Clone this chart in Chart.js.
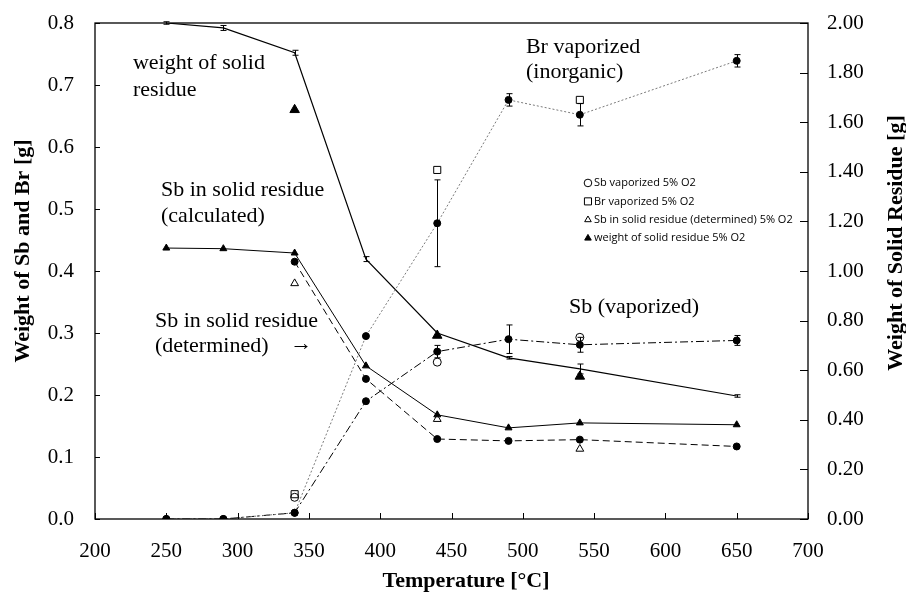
<!DOCTYPE html>
<html>
<head>
<meta charset="utf-8">
<script src="https://cdn.jsdelivr.net/npm/chart.js@4.4.0/dist/chart.umd.min.js"></script>
<style>
  html, body { margin: 0; padding: 0; background: #fff; }
</style>
</head>
<body>
<canvas id="chart" width="906" height="594"></canvas>
<script>
// temperatures [°C]
var temps = [250, 290, 340, 390, 440, 490, 540, 650];
var detTemps = [340, 390, 440, 490, 540, 650];
var o2Temps = [340, 440, 540];

// left axis: weight of Sb and Br [g]
var sbVaporized = [0, 0, 0.01, 0.19, 0.27, 0.29, 0.281, 0.288];
var sbVaporizedErr = [0, 0, 0, 0, 0.01, 0.023, 0.012, 0.008];
var brVaporized = [0, 0, 0.01, 0.295, 0.477, 0.676, 0.652, 0.739];
var brVaporizedErr = [0, 0, 0, 0, 0.07, 0.01, 0.018, 0.01];
var sbResidueCalc = [0.437, 0.436, 0.429, 0.247, 0.168, 0.147, 0.155, 0.152];
var sbResidueDet = [0.415, 0.226, 0.129, 0.126, 0.128, 0.117];

// right axis: weight of solid residue [g]
var solidResidue = [2.00, 1.98, 1.88, 1.048, 0.75, 0.65, 0.605, 0.496];
var solidResidueErr = [0.005, 0.01, 0.01, 0.01, 0, 0.005, 0.02, 0.005];

// 5% O2 runs
var sbVaporizedO2 = [0.035, 0.253, 0.293];
var brVaporizedO2 = [0.04, 0.563, 0.676];
var sbResidueDetO2 = [0.38, 0.161, 0.113];
var solidResidueO2 = [1.65, 0.74, 0.575];

var legendLabels = [
    ["circle", false, "Sb vaporized 5% O2"],
    ["rect", false, "Br vaporized 5% O2"],
    ["triangle", false, "Sb in solid residue (determined) 5% O2"],
    ["triangle", true, "weight of solid residue 5% O2"]
];

// annotation texts: [temperature, left-axis value, text]
var notes = [
    [226.6, 0.735, "weight of solid"],
    [226.6, 0.692, "residue"],
    [502.2, 0.761, "Br vaporized"],
    [502.2, 0.721, "(inorganic)"],
    [246.3, 0.531, "Sb in solid residue"],
    [246.3, 0.489, "(calculated)"],
    [242, 0.319, "Sb in solid residue"],
    [242, 0.279, "(determined)"],
    [337, 0.282, "\u2192"],
    [532.4, 0.342, "Sb (vaporized)"]
];

function pts(xs, ys) {
    return xs.map(function (x, i) { return { x: x, y: ys[i] }; });
}

Chart.defaults.font.family = "'Liberation Serif', 'DejaVu Serif', serif";
Chart.defaults.color = "#000";

var errorBars = {
    id: "extras",
    afterDatasetsDraw: function (chart) {
        var ctx = chart.ctx;
        var xs = chart.scales.x, yl = chart.scales.y, yr = chart.scales.y2;
        var area = chart.chartArea;

        function bars(xv, yv, ev, scale) {
            ctx.save();
            ctx.strokeStyle = "#000";
            ctx.lineWidth = 1;
            for (var i = 0; i < xv.length; i++) {
                if (!ev[i]) continue;
                var px = Math.round(xs.getPixelForValue(xv[i])) + 0.5;
                var top = scale.getPixelForValue(yv[i] + ev[i]);
                var bot = scale.getPixelForValue(yv[i] - ev[i]);
                ctx.beginPath();
                ctx.moveTo(px, top); ctx.lineTo(px, bot);
                ctx.moveTo(px - 3, top); ctx.lineTo(px + 3, top);
                ctx.moveTo(px - 3, bot); ctx.lineTo(px + 3, bot);
                ctx.stroke();
            }
            ctx.restore();
        }
        bars(temps, sbVaporized, sbVaporizedErr, yl);
        bars(temps, brVaporized, brVaporizedErr, yl);
        bars(temps, solidResidue, solidResidueErr, yr);

        // frame and inner ticks
        ctx.save();
        ctx.strokeStyle = "#000";
        ctx.lineWidth = 1.3;
        ctx.strokeRect(area.left, area.top, area.right - area.left, area.bottom - area.top);
        ctx.lineWidth = 1;
        ctx.beginPath();
        xs.ticks.forEach(function (t) {
            var p = Math.round(xs.getPixelForValue(t.value)) + 0.5;
            ctx.moveTo(p, area.bottom); ctx.lineTo(p, area.bottom - 6);
        });
        yl.ticks.forEach(function (t) {
            var p = Math.round(yl.getPixelForValue(t.value)) + 0.5;
            ctx.moveTo(area.left, p); ctx.lineTo(area.left + 5, p);
        });
        yr.ticks.forEach(function (t) {
            var p = Math.round(yr.getPixelForValue(t.value)) + 0.5;
            ctx.moveTo(area.right, p); ctx.lineTo(area.right - 8, p);
        });
        ctx.stroke();

        // annotations
        ctx.fillStyle = "#000";
        ctx.font = "22px 'Liberation Serif'";
        ctx.textAlign = "left";
        ctx.textBaseline = "middle";
        notes.forEach(function (n) {
            ctx.fillText(n[2], xs.getPixelForValue(n[0]), yl.getPixelForValue(n[1]));
        });

        // legend
        ctx.font = "11px 'Open Sans'";
        var lx = xs.getPixelForValue(545.7);
        for (var i = 0; i < legendLabels.length; i++) {
            var ly = yl.getPixelForValue(0.542 - i * 0.0297);
            ctx.fillStyle = legendLabels[i][1] ? "#000" : "rgba(0,0,0,0)";
            ctx.strokeStyle = "#000";
            ctx.lineWidth = 1;
            Chart.helpers.drawPoint(ctx, {
                pointStyle: legendLabels[i][0],
                radius: legendLabels[i][0] === "rect" ? 5 : 3.8,
                rotation: 0,
                borderWidth: 1
            }, lx, ly);
            ctx.fillStyle = "#000";
            ctx.fillText(legendLabels[i][2], lx + 6, ly);
        }

        // axis titles
        ctx.font = "bold 22px 'Liberation Serif'";
        ctx.textAlign = "center";
        ctx.fillText("Temperature [\u00b0C]", 466, 581);
        ctx.save();
        ctx.translate(23, 251);
        ctx.rotate(-Math.PI / 2);
        ctx.fillText("Weight of Sb and Br [g]", 0, 0);
        ctx.restore();
        ctx.save();
        ctx.translate(896, 243);
        ctx.rotate(-Math.PI / 2);
        ctx.fillText("Weight of Solid Residue [g]", 0, 0);
        ctx.restore();
        ctx.restore();
    }
};

function fitVertical(width) {
    return function (s) {
        s.width = width;
        s.paddingTop = 0;
        s.paddingBottom = 0;
    };
}

new Chart("chart", {
    type: "scatter",
    data: {
        datasets: [
            {
                label: "Br vaporized",
                data: pts(temps, brVaporized),
                yAxisID: "y",
                showLine: true,
                borderColor: "#7a7a7a",
                borderWidth: 1,
                borderDash: [2, 2],
                pointStyle: "circle",
                pointRadius: 3.5,
                pointBackgroundColor: "#000",
                pointBorderColor: "#000"
            },
            {
                label: "Sb vaporized",
                data: pts(temps, sbVaporized),
                yAxisID: "y",
                showLine: true,
                borderColor: "#000",
                borderWidth: 1,
                borderDash: [8, 3, 2, 3],
                pointRadius: 3.5,
                pointBackgroundColor: "#000",
                pointBorderColor: "#000"
            },
            {
                label: "Sb in solid residue (determined)",
                data: pts(detTemps, sbResidueDet),
                yAxisID: "y",
                showLine: true,
                borderColor: "#000",
                borderWidth: 1,
                borderDash: [7, 4],
                pointRadius: 3.5,
                pointBackgroundColor: "#000",
                pointBorderColor: "#000"
            },
            {
                label: "Sb in solid residue (calculated)",
                data: pts(temps, sbResidueCalc),
                yAxisID: "y",
                showLine: true,
                borderColor: "#000",
                borderWidth: 1,
                pointStyle: "triangle",
                pointRadius: 4,
                pointBackgroundColor: "#000",
                pointBorderColor: "#000"
            },
            {
                label: "weight of solid residue",
                data: pts(temps, solidResidue),
                yAxisID: "y2",
                showLine: true,
                borderColor: "#000",
                borderWidth: 1.2,
                pointRadius: 0
            },
            {
                label: "Sb vaporized 5% O2",
                data: pts(o2Temps, sbVaporizedO2),
                yAxisID: "y",
                pointStyle: "circle",
                pointRadius: 4,
                pointBackgroundColor: "rgba(0,0,0,0)",
                pointBorderColor: "#000",
                pointBorderWidth: 1
            },
            {
                label: "Br vaporized 5% O2",
                data: pts(o2Temps, brVaporizedO2),
                yAxisID: "y",
                pointStyle: "rect",
                pointRadius: 5,
                pointBackgroundColor: "#fff",
                pointBorderColor: "#000",
                pointBorderWidth: 1
            },
            {
                label: "Sb in solid residue (determined) 5% O2",
                data: pts(o2Temps, sbResidueDetO2),
                yAxisID: "y",
                pointStyle: "triangle",
                pointRadius: 4.5,
                pointBackgroundColor: "rgba(0,0,0,0)",
                pointBorderColor: "#000",
                pointBorderWidth: 1
            },
            {
                label: "weight of solid residue 5% O2",
                data: pts(o2Temps, solidResidueO2),
                yAxisID: "y2",
                pointStyle: "triangle",
                pointRadius: 5.5,
                pointBackgroundColor: "#000",
                pointBorderColor: "#000"
            }
        ]
    },
    options: {
        responsive: false,
        animation: false,
        devicePixelRatio: 1,
        layout: { padding: { top: 23, left: 0, right: 0, bottom: 0 } },
        plugins: {
            legend: { display: false },
            tooltip: { enabled: false }
        },
        scales: {
            x: {
                type: "linear",
                min: 200,
                max: 700,
                grid: { display: false, drawTicks: false },
                border: { display: false },
                ticks: { stepSize: 50, padding: 20, font: { size: 21 } },
                afterFit: function (s) {
                    s.height = 75;
                    s.paddingLeft = 0;
                    s.paddingRight = 0;
                }
            },
            y: {
                position: "left",
                min: 0,
                max: 0.8,
                grid: { display: false, drawTicks: false },
                border: { display: false },
                ticks: {
                    stepSize: 0.1,
                    padding: 21,
                    font: { size: 21 },
                    callback: function (v) { return v.toFixed(1); }
                },
                afterFit: fitVertical(95)
            },
            y2: {
                position: "right",
                min: 0,
                max: 2,
                grid: { display: false, drawTicks: false },
                border: { display: false },
                ticks: {
                    stepSize: 0.2,
                    padding: 19,
                    font: { size: 21 },
                    callback: function (v) { return v.toFixed(2); }
                },
                afterFit: fitVertical(98)
            }
        }
    },
    plugins: [errorBars]
});
</script>
</body>
</html>
